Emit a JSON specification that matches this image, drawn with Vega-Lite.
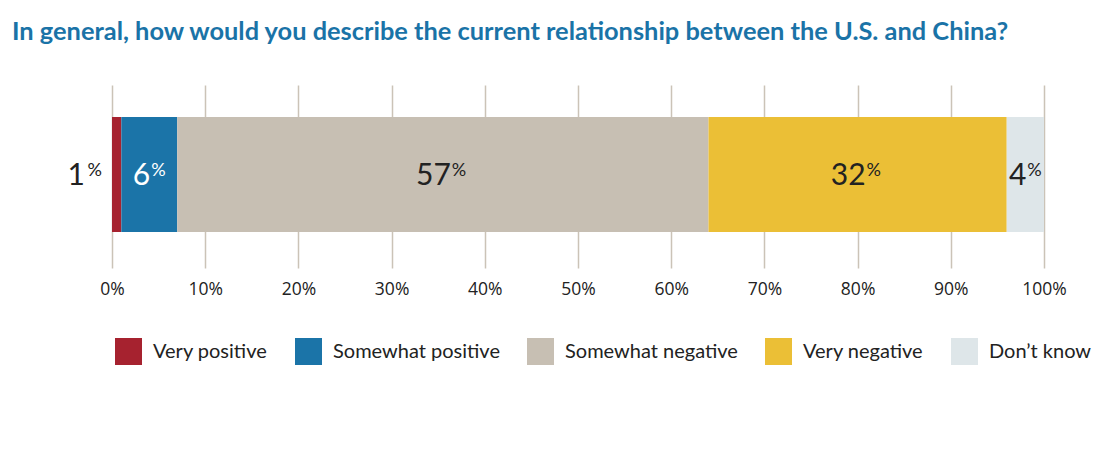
{
  "$schema": "https://vega.github.io/schema/vega-lite/v6.json",
  "autosize": "none",
  "width": 932,
  "height": 183,
  "padding": {"left": 112, "top": 85, "right": 68, "bottom": 186},
  "background": "white",
  "title": {
    "text": "In general, how would you describe the current relationship between the U.S. and China?",
    "anchor": "start",
    "frame": "group",
    "dx": -100,
    "offset": 40,
    "font": "Lato",
    "fontSize": 25.4,
    "fontWeight": "bold",
    "color": "#1a73a7"
  },
  "config": {"view": {"stroke": null}},
  "data": {
    "values": [
      {"question": "US-China relationship", "category": "Very positive", "value": 1, "order": 1},
      {"question": "US-China relationship", "category": "Somewhat positive", "value": 6, "order": 2},
      {"question": "US-China relationship", "category": "Somewhat negative", "value": 57, "order": 3},
      {"question": "US-China relationship", "category": "Very negative", "value": 32, "order": 4},
      {"question": "US-China relationship", "category": "Don’t know", "value": 4, "order": 5}
    ]
  },
  "transform": [
    {"stack": "value", "groupby": ["question"], "sort": [{"field": "order"}], "as": ["start", "end"]},
    {"calculate": "(datum.start + datum.end) / 2", "as": "mid"}
  ],
  "encoding": {
    "y": {
      "field": "question",
      "type": "nominal",
      "axis": null,
      "scale": {"paddingInner": 0, "paddingOuter": 0.2957, "align": 0.47}
    }
  },
  "layer": [
    {
      "mark": {"type": "bar", "cornerRadius": 0},
      "encoding": {
        "x": {
          "field": "start",
          "type": "quantitative",
          "scale": {"domain": [0, 100], "nice": false},
          "axis": {
            "values": [0, 10, 20, 30, 40, 50, 60, 70, 80, 90, 100],
            "labelExpr": "datum.value + '%'",
            "labelFlush": false,
            "grid": true,
            "gridColor": "#cbc3b7",
            "gridWidth": 1.5,
            "domain": false,
            "ticks": false,
            "labelFont": "Open Sans",
            "labelFontSize": 17.5,
            "labelColor": "#222222",
            "labelPadding": 12,
            "title": null
          }
        },
        "x2": {"field": "end"},
        "color": {
          "field": "category",
          "type": "nominal",
          "sort": ["Very positive", "Somewhat positive", "Somewhat negative", "Very negative", "Don’t know"],
          "scale": {
            "domain": ["Very positive", "Somewhat positive", "Somewhat negative", "Very negative", "Don’t know"],
            "range": ["#a6222f", "#1b74a8", "#c7bfb3", "#ebbf36", "#dee6e9"]
          },
          "legend": {
            "orient": "none",
            "legendX": 3,
            "legendY": 253,
            "direction": "horizontal",
            "title": null,
            "symbolType": "square",
            "symbolSize": 729,
            "symbolStrokeWidth": 0,
            "symbolOpacity": 1,
            "labelFont": "Lato",
            "labelFontSize": 20,
            "labelColor": "#222222",
            "labelOffset": 11,
            "labelLimit": 400,
            "columnPadding": 27
          }
        }
      }
    },
    {
      "transform": [{"filter": "datum.value >= 10"}],
      "mark": {"type": "text", "align": "right", "baseline": "alphabetic", "dx": 8, "dy": 11, "font": "Lato", "fontSize": 30, "color": "#222222"},
      "encoding": {
        "x": {"field": "mid", "type": "quantitative"},
        "text": {"field": "value", "type": "quantitative"}
      }
    },
    {
      "transform": [{"filter": "datum.value >= 10"}],
      "mark": {"type": "text", "align": "left", "baseline": "alphabetic", "dx": 9, "dy": 2, "font": "Lato", "fontSize": 18, "color": "#222222", "text": "%"},
      "encoding": {
        "x": {"field": "mid", "type": "quantitative"}
      }
    },
    {
      "transform": [{"filter": "datum.value < 10 && datum.category !== 'Very positive'"}],
      "mark": {"type": "text", "align": "right", "baseline": "alphabetic", "dx": 1, "dy": 11, "font": "Lato", "fontSize": 30},
      "encoding": {
        "x": {"field": "mid", "type": "quantitative"},
        "text": {"field": "value", "type": "quantitative"},
        "color": {"condition": {"test": "datum.category === 'Somewhat positive'", "value": "white"}, "value": "#222222"}
      }
    },
    {
      "transform": [{"filter": "datum.value < 10 && datum.category !== 'Very positive'"}],
      "mark": {"type": "text", "align": "left", "baseline": "alphabetic", "dx": 2, "dy": 2, "font": "Lato", "fontSize": 18, "text": "%"},
      "encoding": {
        "x": {"field": "mid", "type": "quantitative"},
        "color": {"condition": {"test": "datum.category === 'Somewhat positive'", "value": "white"}, "value": "#222222"}
      }
    },
    {
      "transform": [{"filter": "datum.category === 'Very positive'"}],
      "mark": {"type": "text", "align": "right", "baseline": "alphabetic", "dx": -27, "dy": 11, "font": "Lato", "fontSize": 30, "color": "#222222"},
      "encoding": {
        "x": {"field": "start", "type": "quantitative"},
        "text": {"field": "value", "type": "quantitative"}
      }
    },
    {
      "transform": [{"filter": "datum.category === 'Very positive'"}],
      "mark": {"type": "text", "align": "right", "baseline": "alphabetic", "dx": -10, "dy": 2, "font": "Lato", "fontSize": 18, "color": "#222222", "text": "%"},
      "encoding": {
        "x": {"field": "start", "type": "quantitative"}
      }
    }
  ]
}
